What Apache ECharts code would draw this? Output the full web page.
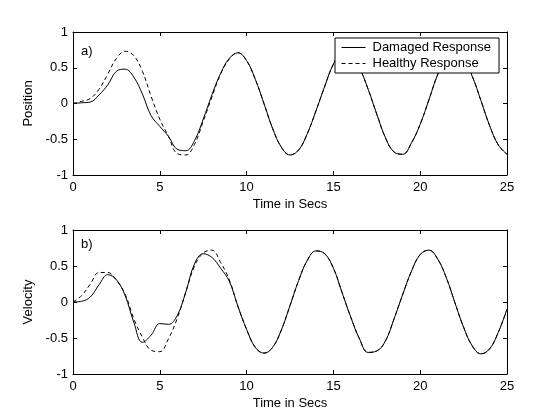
<!DOCTYPE html>
<html>
<head>
<meta charset="utf-8">
<script src="https://cdn.jsdelivr.net/npm/echarts@6/dist/echarts.min.js"></script>
<style>
html,body{margin:0;padding:0;background:#fff;}
#c{width:560px;height:420px;}
</style>
</head>
<body>
<div id="c"></div>
<script>
// ---- data ----
var time = [0,0.5,1,1.5,2,2.5,3,3.5,4,4.5,5,5.5,6,6.5,7,7.5,8,8.5,9,9.5,10,10.5,11,11.5,12,12.5,13,13.5,14,14.5,15,15.5,16,16.5,17,17.5,18,18.5,19,19.5,20,20.5,21,21.5,22,22.5,23,23.5,24,24.5,25];

var posDamaged = [0,0.01,0.02,0.12,0.26,0.45,0.48,0.37,0.13,-0.17,-0.32,-0.46,-0.64,-0.66,-0.52,-0.22,0.12,0.42,0.63,0.71,0.60,0.34,0.00,-0.35,-0.61,-0.72,-0.65,-0.42,-0.10,0.24,0.55,0.71,0.69,0.50,0.20,-0.15,-0.48,-0.68,-0.71,-0.55,-0.29,0.05,0.40,0.64,0.72,0.63,0.38,0.04,-0.31,-0.58,-0.71];

var posHealthy = [0,0.03,0.07,0.20,0.41,0.63,0.73,0.67,0.45,0.10,-0.22,-0.46,-0.70,-0.72,-0.57,-0.25,0.09,0.41,0.62,0.71,0.60,0.34,0.00,-0.35,-0.61,-0.72,-0.65,-0.42,-0.10,0.24,0.55,0.71,0.69,0.50,0.20,-0.15,-0.48,-0.68,-0.71,-0.55,-0.29,0.05,0.40,0.64,0.72,0.63,0.38,0.04,-0.31,-0.58,-0.71];

var velDamaged = [0,0.01,0.07,0.24,0.38,0.31,0.09,-0.28,-0.56,-0.46,-0.30,-0.31,-0.19,0.14,0.53,0.67,0.62,0.47,0.29,-0.06,-0.38,-0.63,-0.71,-0.63,-0.39,-0.05,0.30,0.58,0.71,0.67,0.47,0.13,-0.21,-0.51,-0.70,-0.68,-0.54,-0.23,0.11,0.43,0.66,0.72,0.60,0.34,-0.01,-0.35,-0.61,-0.72,-0.65,-0.42,-0.10];

var velHealthy = [0,0.09,0.25,0.41,0.41,0.30,0.11,-0.23,-0.49,-0.67,-0.69,-0.51,-0.23,0.14,0.50,0.68,0.72,0.55,0.31,-0.06,-0.38,-0.63,-0.71,-0.63,-0.39,-0.05,0.30,0.58,0.71,0.67,0.47,0.13,-0.21,-0.51,-0.70,-0.68,-0.54,-0.23,0.11,0.43,0.66,0.72,0.60,0.34,-0.01,-0.35,-0.61,-0.72,-0.65,-0.42,-0.10];

var seriesNames = ['Damaged Response', 'Healthy Response'];
var xTicks = {min: 0, max: 25, interval: 5};
var yTicks = {min: -1, max: 1, interval: 0.5};
var panelLabels = ['a)', 'b)'];
var yNames = ['Position', 'Velocity'];
var xName = 'Time in Secs';

function pairs(v){ return time.map(function(t,i){ return [t, v[i]]; }); }

var FONT = 'Arial, "Liberation Sans", Helvetica, sans-serif';
var FS = 13;

function xAx(grid, pos){
  var bottom = pos === 'bottom';
  return {
    type: 'value', gridIndex: grid, position: pos,
    min: xTicks.min, max: xTicks.max, interval: xTicks.interval,
    name: bottom ? xName : '', nameLocation: 'middle', nameGap: 23,
    nameTextStyle: {color: '#000', fontSize: FS, fontFamily: FONT},
    axisLine: {show: true, onZero: false, lineStyle: {color: '#000', width: 1}},
    axisTick: {show: true, inside: true, length: 4, lineStyle: {color: '#000'}},
    axisLabel: {show: bottom, color: '#000', fontSize: FS, fontFamily: FONT, margin: 6},
    splitLine: {show: false}
  };
}
function yAx(grid, pos){
  var left = pos === 'left';
  return {
    type: 'value', gridIndex: grid, position: pos,
    min: yTicks.min, max: yTicks.max, interval: yTicks.interval,
    name: left ? yNames[grid] : '', nameLocation: 'middle', nameGap: 26, nameRotate: 90,
    nameTextStyle: {color: '#000', fontSize: FS, fontFamily: FONT},
    axisLine: {show: true, onZero: false, lineStyle: {color: '#000', width: 1}},
    axisTick: {show: true, inside: true, length: 4, lineStyle: {color: '#000'}},
    axisLabel: {show: left, color: '#000', fontSize: FS, fontFamily: FONT, margin: 5},
    splitLine: {show: false}
  };
}

function line(name, xi, yi, data, dashed){
  return {
    name: name, type: 'line', xAxisIndex: xi, yAxisIndex: yi,
    data: pairs(data), smooth: 0.4, symbol: 'none', animation: false,
    lineStyle: {color: '#000', width: 1, type: dashed ? [4, 3] : 'solid'},
    itemStyle: {color: '#000'}
  };
}

var chart = echarts.init(document.getElementById('c'), null, {renderer: 'canvas'});
chart.setOption({
  backgroundColor: '#fff',
  animation: false,
  title: [
    {text: panelLabels[0], left: 81, top: 45, padding: 0, textStyle: {fontSize: FS, fontWeight: 'normal', color: '#000', fontFamily: FONT}},
    {text: panelLabels[1], left: 81, top: 238, padding: 0, textStyle: {fontSize: FS, fontWeight: 'normal', color: '#000', fontFamily: FONT}}
  ],
  legend: {
    data: seriesNames.map(function(n){ return {name: n}; }),
    orient: 'vertical', left: 335, top: 38,
    padding: [3, 8, 3, 6], itemGap: 3, itemWidth: 24, itemHeight: 13,
    borderColor: '#000', borderWidth: 1, borderRadius: 0, backgroundColor: '#fff',
    itemStyle: {color: 'rgba(0,0,0,0)', borderWidth: 0, opacity: 0},
    lineStyle: {width: 1, color: '#000'},
    textStyle: {color: '#000', fontSize: FS, fontFamily: FONT, padding: [0, 0, 0, 2]},
    selectedMode: false
  },
  grid: [
    {left: 73, right: 53, top: 32, height: 143},
    {left: 73, right: 53, top: 230, height: 144}
  ],
  xAxis: [xAx(0, 'bottom'), xAx(0, 'top'), xAx(1, 'bottom'), xAx(1, 'top')],
  yAxis: [yAx(0, 'left'), yAx(0, 'right'), yAx(1, 'left'), yAx(1, 'right')],
  series: [
    line(seriesNames[0], 0, 0, posDamaged, false),
    line(seriesNames[1], 0, 0, posHealthy, true),
    line(seriesNames[0], 2, 2, velDamaged, false),
    line(seriesNames[1], 2, 2, velHealthy, true)
  ]
});
</script>
</body>
</html>
